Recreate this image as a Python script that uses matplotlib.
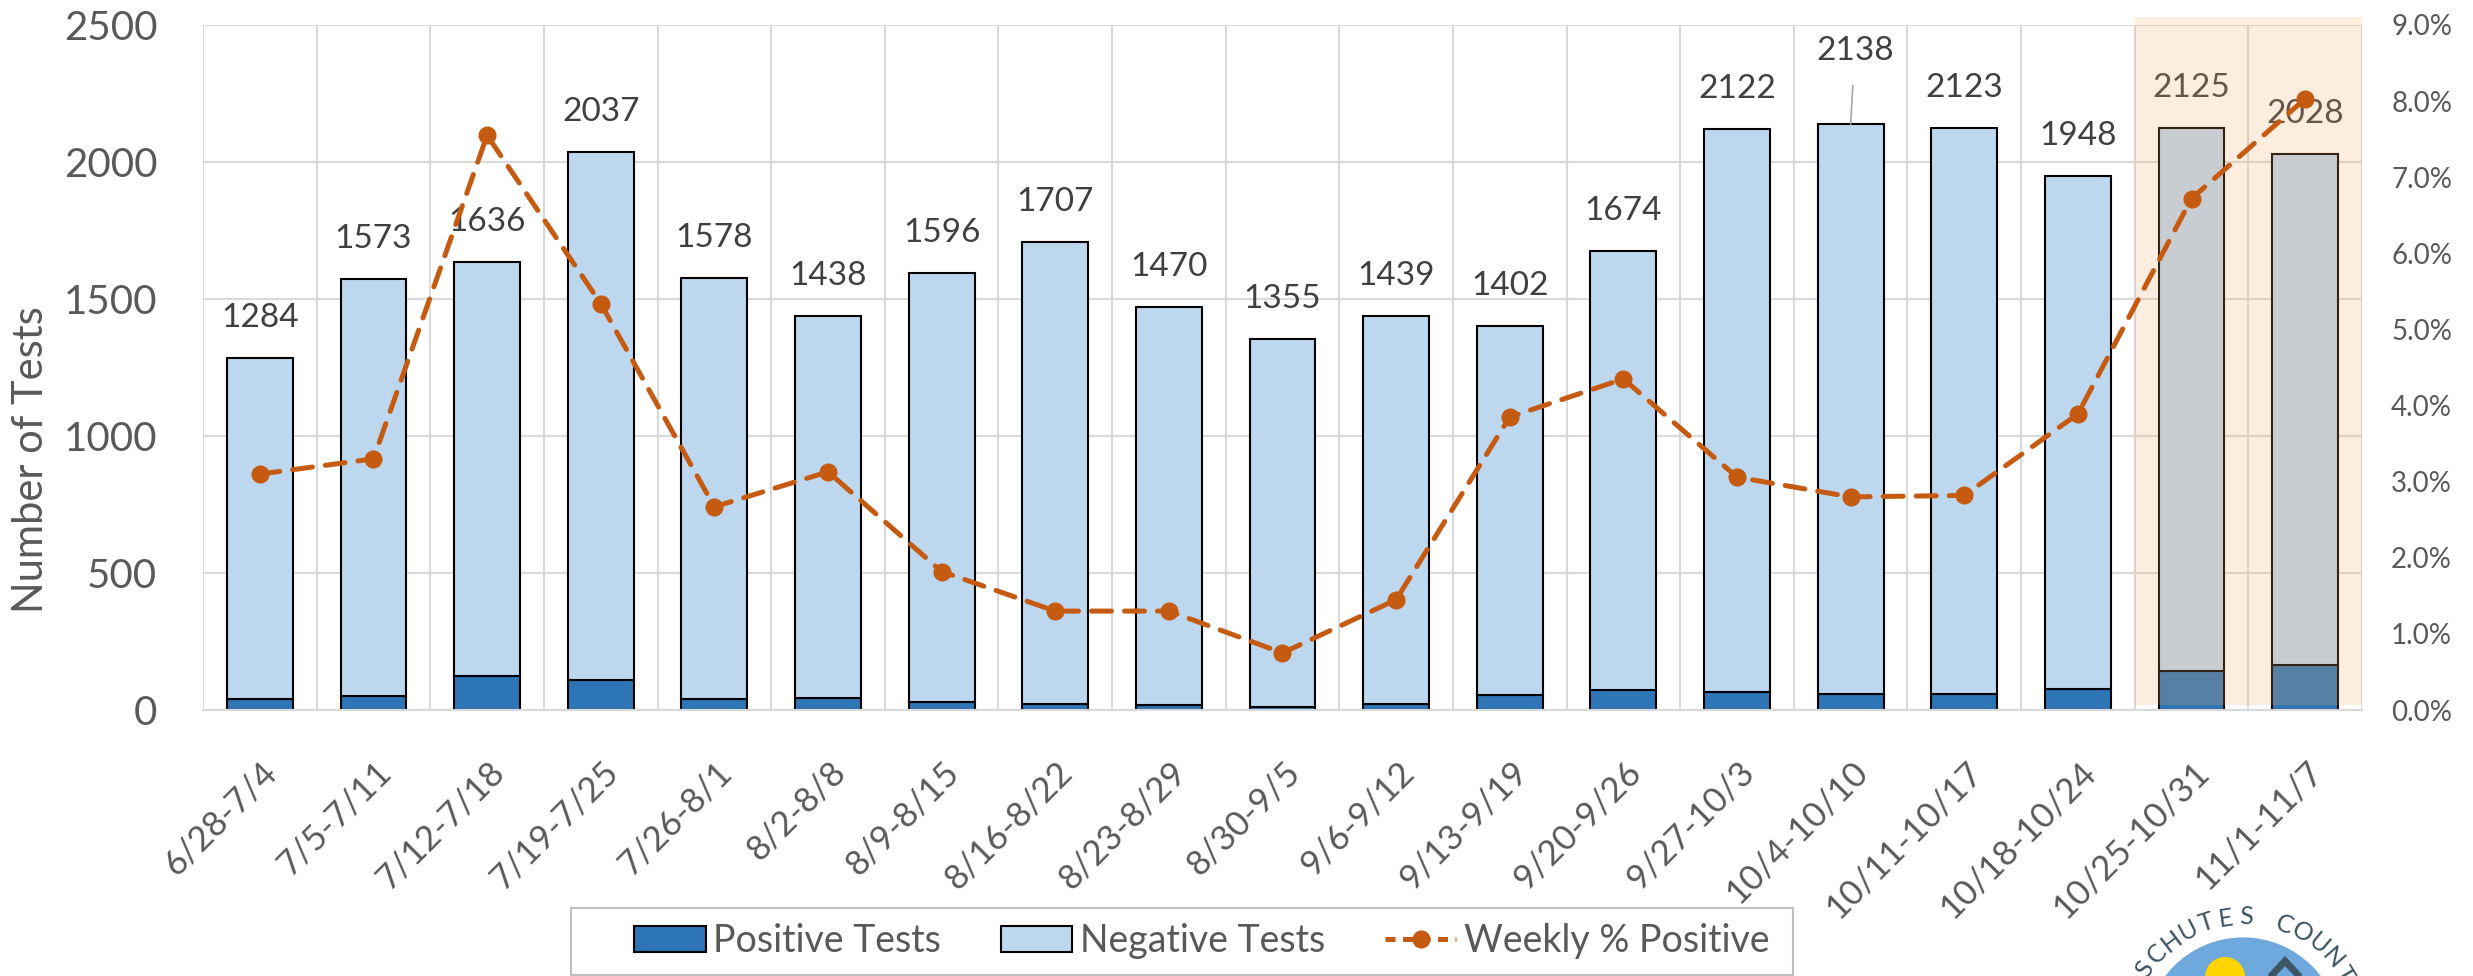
import numpy as np
import matplotlib
matplotlib.use("Agg")
import matplotlib.pyplot as plt
import matplotlib.transforms as mtransforms
from matplotlib.patches import Patch, Rectangle, Circle, Polygon
from matplotlib.lines import Line2D

plt.rcParams['font.family'] = ['Lato', 'DejaVu Sans']

# données
weeks = ['6/28-7/4', '7/5-7/11', '7/12-7/18', '7/19-7/25', '7/26-8/1', '8/2-8/8',
         '8/9-8/15', '8/16-8/22', '8/23-8/29', '8/30-9/5', '9/6-9/12', '9/13-9/19',
         '9/20-9/26', '9/27-10/3', '10/4-10/10', '10/11-10/17', '10/18-10/24',
         '10/25-10/31', '11/1-11/7']
total_tests = [1284, 1573, 1636, 2037, 1578, 1438, 1596, 1707, 1470, 1355, 1439,
               1402, 1674, 2122, 2138, 2123, 1948, 2125, 2028]
positive_tests = [40, 52, 124, 109, 42, 45, 29, 22, 19, 10, 21, 54, 73, 65, 60, 60,
                  76, 143, 163]
weekly_pct = [3.10, 3.30, 7.55, 5.34, 2.67, 3.13, 1.82, 1.30, 1.30, 0.75, 1.45,
              3.85, 4.35, 3.06, 2.80, 2.82, 3.89, 6.72, 8.03]

negative_tests = [t - p for t, p in zip(total_tests, positive_tests)]

grey_txt = '#595959'
x = np.arange(len(weeks))

fig = plt.figure(figsize=(24.73, 9.76), dpi=100)
ax = fig.add_axes([0.0821, 0.2725, 0.8730, 0.7019])

# barres empilées
ax.bar(x, positive_tests, 0.58, color='#2E75B6', edgecolor='black', linewidth=1.5, zorder=2)
ax.bar(x, negative_tests, 0.58, bottom=positive_tests, color='#BDD7EE',
       edgecolor='black', linewidth=1.5, zorder=2)

ax.set_xlim(-0.5, len(weeks) - 0.5)
ax.set_ylim(0, 2500)
ax.set_yticks(np.arange(0, 2501, 500))
ax.set_xticks(x)
ax.set_xticklabels(weeks, rotation=45, ha='right', va='center', rotation_mode='anchor',
                   fontsize=25, color=grey_txt)
ax.set_xticks(np.arange(-0.5, len(weeks), 1), minor=True)
ax.set_axisbelow(True)
ax.grid(axis='y', which='major', color='#D9D9D9', linewidth=1.5)
ax.grid(axis='x', which='minor', color='#D9D9D9', linewidth=1.5)
ax.tick_params(axis='x', which='both', length=0, pad=41)
ax.tick_params(axis='y', length=0, pad=33, labelsize=29, labelcolor=grey_txt)
for s in ['left', 'right', 'top']:
    ax.spines[s].set_visible(False)
ax.spines['bottom'].set_color('#D9D9D9')
ax.spines['bottom'].set_linewidth(1.5)

offset = mtransforms.ScaledTranslation(0.12, 0, fig.dpi_scale_trans)
for lbl in ax.get_xticklabels():
    lbl.set_transform(lbl.get_transform() + offset)

ax.set_ylabel('Number of Tests', fontsize=30, color=grey_txt)
ax.yaxis.set_label_coords(-0.071, 0.365)

# étiquettes des totaux
for i, t in enumerate(total_tests):
    if i == 14:
        ax.annotate(str(t), (i, t), xytext=(3, 52.6), textcoords='offset points',
                    ha='center', va='center', fontsize=24, color='#404040', zorder=3,
                    arrowprops=dict(arrowstyle='-', color='#A6A6A6', lw=1.2,
                                    shrinkA=12, shrinkB=0))
    else:
        ax.annotate(str(t), (i, t), xytext=(0, 28.8), textcoords='offset points',
                    ha='center', va='center', fontsize=24, color='#404040', zorder=3)

# zone en surbrillance (semaines récentes)
ax.add_patch(Rectangle((16.5, 18), 2.0, 2511, facecolor=(0.965, 0.675, 0.396),
                       alpha=0.21, edgecolor='none', zorder=4, clip_on=False))

# axe secondaire : % positif
ax2 = ax.twinx()
ax2.plot(x, weekly_pct, color='#C55A11', linewidth=3.6, linestyle=(0, (4, 2.6)),
         dash_capstyle='round', marker='o', markersize=12, zorder=5)
ax2.set_ylim(0, 9)
ax2.set_yticks(np.arange(0, 9.01, 1))
ax2.set_yticklabels(['%.1f%%' % v for v in np.arange(0, 9.01, 1)])
ax2.tick_params(axis='y', length=0, pad=21, labelsize=20, labelcolor=grey_txt)
for s in ['left', 'right', 'top', 'bottom']:
    ax2.spines[s].set_visible(False)

# légende
handles = [Patch(facecolor='#2E75B6', edgecolor='black', linewidth=1.5),
           Patch(facecolor='#BDD7EE', edgecolor='black', linewidth=1.5),
           Line2D([], [], color='#C55A11', linewidth=3.6, linestyle=(0, (2, 1.5)),
                  marker='o', markersize=12)]
leg = fig.legend(handles, ['Positive Tests', 'Negative Tests', 'Weekly % Positive'],
                 loc='center', bbox_to_anchor=(0.486, 0.0354), ncol=3, frameon=False,
                 fontsize=27, handlelength=1.9, handleheight=0.7, handletextpad=0.2,
                 columnspacing=1.6)
for txt in leg.get_texts():
    txt.set_color(grey_txt)
fig.add_artist(Rectangle((0.2309, 0.001), 0.4941, 0.0686, transform=fig.transFigure,
                         facecolor='none', edgecolor='#BFBFBF', linewidth=1.5))

# logo (partiellement visible en bas à droite)
px = fig.dpi_scale_trans
cx, cy = 22.43, (976 - 1035) / 100
fig.add_artist(Circle((cx, cy), 0.99, transform=px, facecolor='#6FA8DC', edgecolor='white',
                      linewidth=2))
fig.add_artist(Circle((22.25, (976 - 977) / 100), 0.20, transform=px, facecolor='#FFD500',
                      edgecolor='none'))
fig.add_artist(Polygon([(22.60, -0.12), (22.85, 0.15), (23.10, -0.12)], closed=False,
                       transform=px, facecolor='none', edgecolor='#3E5566', linewidth=5))
logo_txt = 'DESCHUTES COUNTY'
angles = 165.5 - 9.6 * np.arange(len(logo_txt))
for ch, a in zip(logo_txt, angles):
    r = 1.18
    fig.text(cx + r * np.cos(np.radians(a)), cy + r * np.sin(np.radians(a)), ch,
             transform=px, rotation=a - 90, ha='center', va='center',
             rotation_mode='anchor', fontsize=18, color='#3B5263')

fig.savefig('out.png', dpi=100)
